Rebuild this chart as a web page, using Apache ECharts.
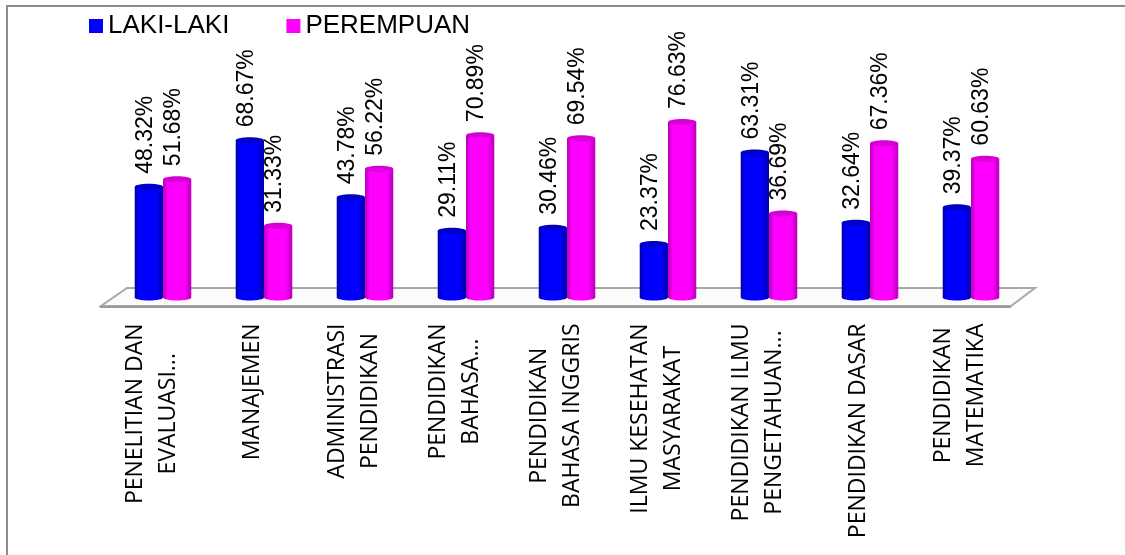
<!DOCTYPE html>
<html>
<head>
<meta charset="utf-8">
<script src="https://cdn.jsdelivr.net/npm/echarts@6/dist/echarts.min.js"></script>
<style>
html,body{margin:0;padding:0;background:#fff;}
#chart{width:1125px;height:555px;}
</style>
</head>
<body>
<div id="chart"></div>
<script>
const categories = [
  "PENELITIAN DAN\nEVALUASI...",
  "MANAJEMEN",
  "ADMINISTRASI\nPENDIDIKAN",
  "PENDIDIKAN\nBAHASA...",
  "PENDIDIKAN\nBAHASA INGGRIS",
  "ILMU KESEHATAN\nMASYARAKAT",
  "PENDIDIKAN ILMU\nPENGETAHUAN...",
  "PENDIDIKAN DASAR",
  "PENDIDIKAN\nMATEMATIKA"
];
const seriesNames = ["LAKI-LAKI", "PEREMPUAN"];
const lakiLaki = [48.32, 68.67, 43.78, 29.11, 30.46, 23.37, 63.31, 32.64, 39.37];
const perempuan = [51.68, 31.33, 56.22, 70.89, 69.54, 76.63, 36.69, 67.36, 60.63];

const palette = {
  0: {main: '#0000FF', edge: '#0000A8', cap: '#0000C8'},
  1: {main: '#FF00FF', edge: '#B800B8', cap: '#D600D6'}
};

function makeRender(side) {
  const c = palette[side];
  return function (params, api) {
    const idx = api.value(0);
    const val = api.value(1);
    const top = api.coord([idx, val]);
    const base = api.coord([idx, 0]);
    const band = api.size([1, 0])[0];
    const bw = band * 0.28;
    const left = side === 0 ? top[0] - bw : top[0];
    const cx = left + bw / 2;
    const ry = 3;
    const grad = {
      type: 'linear', x: 0, y: 0, x2: 1, y2: 0,
      colorStops: [
        {offset: 0, color: c.edge},
        {offset: 0.18, color: c.main},
        {offset: 0.75, color: c.main},
        {offset: 1, color: c.edge}
      ]
    };
    const label = (val.toFixed(2)) + '%';
    return {
      type: 'group',
      children: [
        {type: 'ellipse', shape: {cx: cx, cy: base[1], rx: bw / 2, ry: ry}, style: {fill: grad}},
        {type: 'rect', shape: {x: left, y: top[1], width: bw, height: base[1] - top[1]}, style: {fill: grad}},
        {type: 'ellipse', shape: {cx: cx, cy: top[1], rx: bw / 2, ry: ry}, style: {fill: c.cap}},
        {
          type: 'text', x: cx - 3, y: top[1] - 13, rotation: Math.PI / 2,
          style: {text: label, fill: '#000', font: '23px "Liberation Sans", Arial, sans-serif', align: 'left', verticalAlign: 'middle'}
        }
      ]
    };
  };
}

const chart = echarts.init(document.getElementById('chart'));
const option = {
  animation: false,
  backgroundColor: '#ffffff',
  legend: {
    data: seriesNames,
    left: 84, top: 8,
    icon: 'rect', itemWidth: 14, itemHeight: 14, itemGap: 57,
    textStyle: {fontFamily: '"Liberation Sans", Arial, sans-serif', fontSize: 26, color: '#000'}
  },
  grid: [
    {left: 112.5, width: 909, top: 68.5, height: 229},
    {left: 101, width: 909, top: 68.5, height: 229}
  ],
  xAxis: [
    {type: 'category', gridIndex: 0, data: categories, show: false},
    {
      type: 'category', gridIndex: 1, data: categories,
      axisLine: {show: false}, axisTick: {show: false},
      axisLabel: {
        interval: 0, rotate: 90, margin: 26,
        formatter: function (v) { return v.split('\n').map(s => '{c|' + s + '}').join('\n'); },
        rich: {c: {fontFamily: '"Open Sans", sans-serif', fontSize: 23, lineHeight: 33, color: '#000', align: 'center'}}
      }
    }
  ],
  yAxis: [
    {type: 'value', gridIndex: 0, min: 0, max: 100, show: false, splitLine: {show: false}},
    {type: 'value', gridIndex: 1, min: 0, max: 100, show: false, splitLine: {show: false}}
  ],
  graphic: [
    {type: 'rect', z: 0, shape: {x: 7, y: 6, width: 1130, height: 560}, style: {fill: 'none', stroke: '#8c8c8c', lineWidth: 2}},
    {type: 'polygon', z: 0, shape: {points: [[127, 288], [1035, 288], [1011, 306], [101, 306]]}, style: {fill: '#fbfbfb', stroke: '#a8a8a8', lineWidth: 2}},
    {type: 'rect', z: 0, shape: {x: 100, y: 306, width: 911, height: 2}, style: {fill: '#9a9a9a'}}
  ],
  series: [
    {name: seriesNames[0], type: 'custom', xAxisIndex: 0, yAxisIndex: 0, z: 5, itemStyle: {color: '#0000FF'},
      renderItem: makeRender(0), encode: {x: 0, y: 1}, data: lakiLaki.map((v, i) => [i, v])},
    {name: seriesNames[1], type: 'custom', xAxisIndex: 0, yAxisIndex: 0, z: 5, itemStyle: {color: '#FF00FF'},
      renderItem: makeRender(1), encode: {x: 0, y: 1}, data: perempuan.map((v, i) => [i, v])}
  ]
};
chart.setOption(option);
</script>
</body>
</html>
